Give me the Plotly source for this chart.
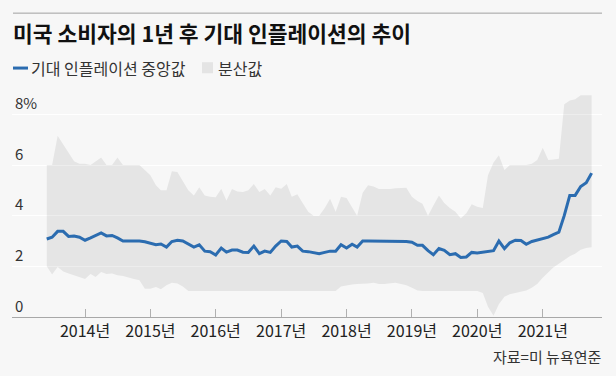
import pandas as pd
import plotly.graph_objects as go

# ---------------- data (monthly, 2013-06 .. 2021-10) ----------------
start_month = "2013-06-01"
n_months = 101

median = [
    3.08, 3.15, 3.38, 3.38, 3.18, 3.20, 3.15,                                  # 2013 Jun-Dec
    3.03, 3.12, 3.22, 3.32, 3.20, 3.22, 3.12, 3.00, 3.00, 3.00, 3.00, 2.97,    # 2014
    2.92, 2.85, 2.88, 2.76, 2.98, 3.03, 3.00, 2.88, 2.76, 2.85, 2.60, 2.58,    # 2015
    2.45, 2.72, 2.56, 2.64, 2.64, 2.56, 2.55, 2.80, 2.50, 2.60, 2.55, 2.80,    # 2016
    3.00, 2.98, 2.76, 2.80, 2.60, 2.58, 2.55, 2.50, 2.55, 2.60, 2.60, 2.85,    # 2017
    2.72, 2.87, 2.76, 3.00, 3.00, 3.00, 3.00, 3.00, 3.00, 2.98, 2.98, 2.98,    # 2018
    2.95, 2.83, 2.83, 2.62, 2.46, 2.70, 2.63, 2.46, 2.50, 2.35, 2.37, 2.55,    # 2019
    2.53, 2.56, 2.60, 2.62, 3.00, 2.70, 2.93, 3.03, 3.02, 2.87, 2.98, 3.03,    # 2020
    3.10, 3.15, 3.25, 3.35, 4.00, 4.80, 4.80, 5.15, 5.30, 5.68,                # 2021 Jan-Oct
]

upper = [
    6.00, 6.00, 7.15, 6.80, 6.45, 6.15, 6.05,
    6.05, 6.00, 6.15, 6.30, 6.00, 6.00, 6.30, 6.00, 6.00, 6.00, 6.00, 5.80,
    5.60, 5.20, 5.00, 5.00, 5.75, 5.72, 5.35, 5.00, 4.80, 5.12, 4.80, 4.75,
    4.73, 5.06, 4.60, 5.05, 4.95, 4.93, 5.00, 5.25, 4.93, 5.05, 4.80, 5.12,
    5.06, 5.25, 4.75, 4.85, 4.50, 4.15, 4.00, 4.00, 4.30, 4.67, 4.15, 4.75,
    4.70, 4.30, 4.00, 4.90, 5.20, 5.15, 5.05, 5.05, 5.05, 5.08, 5.10, 5.10,
    4.75, 4.58, 4.47, 4.00, 4.40, 4.80, 4.50, 4.30, 4.15, 3.90, 4.10, 4.45,
    4.35, 4.30, 5.60, 6.10, 6.38, 5.80, 6.00, 6.00, 6.00, 6.00, 6.05, 6.20,
    6.68, 6.20, 6.22, 6.25, 8.40, 8.55, 8.60, 8.75, 8.75, 8.75,
]

lower = [
    2.00, 1.68, 1.97, 1.80, 1.72, 1.65, 1.58,
    1.50, 1.70, 1.58, 1.78, 1.70, 1.72, 1.65, 1.62, 1.55, 1.50, 1.45, 1.12,
    1.12, 1.18, 1.10, 1.25, 1.35, 1.32, 1.20, 1.03, 1.03, 1.03, 1.03, 1.03,
    1.03, 1.03, 1.03, 1.03, 1.03, 1.03, 1.03, 1.03, 1.03, 1.03, 1.03, 1.03,
    1.03, 1.03, 1.03, 1.03, 1.03, 1.03, 1.03, 1.03, 1.03, 1.03, 1.03, 1.20,
    1.25, 1.28, 1.30, 1.30, 1.32, 1.35, 1.30, 1.30, 1.32, 1.35, 1.30, 1.25,
    1.15, 1.05, 1.03, 1.03, 1.03, 1.03, 1.03, 1.03, 1.03, 1.03, 1.03, 1.03,
    1.03, 0.95, 0.40, 0.05, 0.50, 0.80, 0.90, 0.95, 1.00, 1.05, 1.15, 1.30,
    1.55, 1.75, 1.95, 2.10, 2.25, 2.40, 2.50, 2.65, 2.72, 2.75,
]

x_tick_years = [2014, 2015, 2016, 2017, 2018, 2019, 2020, 2021]
x_ticktext = [f"{y}년" for y in x_tick_years]
y_tickvals = [0, 2, 4, 6, 8]
y_ticktext = ["0", "2", "4", "6", "8%"]

title_text = "미국 소비자의 1년 후 기대 인플레이션의 추이"
legend_line_text = "기대 인플레이션 중앙값"
legend_band_text = "분산값"
source_text = "자료=미 뉴욕연준"

dates = pd.date_range(start_month, periods=n_months, freq="MS")
x_tickvals = [f"{y}-01-01" for y in x_tick_years]

# ---------------- layout constants (pixels) ----------------
W, H = 616, 376
ML, MR, MT, MB = 12, 14, 89.2, 59.3
PW, PH = W - ML - MR, H - MT - MB
FONT = "Noto Sans CJK KR, Noto Sans, sans-serif"
BG = "#f7f7f7"
BLUE = "#2b6cb0"


def px(xp):
    return (xp - ML) / PW


def py(yp):
    return (H - MB - yp) / PH


fig = go.Figure()

fig.add_trace(go.Scatter(
    x=dates, y=lower, mode="lines", line=dict(width=0, color="rgba(0,0,0,0)"),
    hoverinfo="skip", showlegend=False,
))
fig.add_trace(go.Scatter(
    x=dates, y=upper, mode="lines", line=dict(width=0, color="rgba(0,0,0,0)"),
    fill="tonexty", fillcolor="rgba(0,0,0,0.072)", name=legend_band_text,
    showlegend=False,
))
fig.add_trace(go.Scatter(
    x=dates, y=median, mode="lines", line=dict(width=3, color=BLUE),
    name=legend_line_text, showlegend=False,
))

fig.update_layout(
    width=W, height=H,
    margin=dict(l=ML, r=MR, t=MT, b=MB, pad=0, autoexpand=False),
    paper_bgcolor=BG, plot_bgcolor=BG,
    font=dict(family=FONT, color="#333", size=14),
    showlegend=False,
)

fig.update_xaxes(
    type="date",
    range=["2012-11-19", "2021-11-28"],
    tickvals=x_tickvals, ticktext=x_ticktext,
    ticks="inside", ticklen=8, tickcolor="#b0b0b0", tickwidth=1,
    showline=True, linecolor="#a8a8a8", linewidth=1,
    showgrid=False, zeroline=False, automargin=False,
    tickfont=dict(size=16, color="#222"),
    fixedrange=True,
)
fig.update_yaxes(
    range=[0, 9],
    tickvals=y_tickvals, ticktext=y_ticktext,
    ticklabelposition="inside top",
    showgrid=True, gridcolor="#ffffff", gridwidth=1,
    zeroline=False, showline=False, ticks="", automargin=False,
    tickfont=dict(size=15, color="#333"),
    fixedrange=True,
)

# top rule
fig.add_shape(type="line", xref="paper", yref="paper",
              x0=px(13), x1=px(602), y0=py(13.5), y1=py(13.5),
              line=dict(color="#a0a0a0", width=1))

# title
fig.add_annotation(text="<b>" + title_text + "</b>", xref="paper", yref="paper",
                   x=px(11), y=py(33), xanchor="left", yanchor="middle",
                   showarrow=False, font=dict(size=21.5, color="#111", family=FONT))

# legend (manual)
fig.add_shape(type="line", xref="paper", yref="paper",
              x0=px(13), x1=px(28), y0=py(68.3), y1=py(68.3),
              line=dict(color=BLUE, width=3))
fig.add_annotation(text=legend_line_text, xref="paper", yref="paper",
                   x=px(29), y=py(68), xanchor="left", yanchor="middle",
                   showarrow=False, font=dict(size=16, color="#333", family=FONT))
fig.add_shape(type="rect", xref="paper", yref="paper",
              x0=px(202), x1=px(213), y0=py(73.5), y1=py(62.5),
              line=dict(width=0), fillcolor="#e4e4e4")
fig.add_annotation(text=legend_band_text, xref="paper", yref="paper",
                   x=px(216), y=py(68), xanchor="left", yanchor="middle",
                   showarrow=False, font=dict(size=16, color="#333", family=FONT))

# source
fig.add_annotation(text=source_text, xref="paper", yref="paper",
                   x=px(603), y=py(356.5), xanchor="right", yanchor="middle",
                   showarrow=False, font=dict(size=15, color="#333", family=FONT))

fig.write_html("out.html", config={"displayModeBar": False},
               post_script="document.body.style.margin='0';")
